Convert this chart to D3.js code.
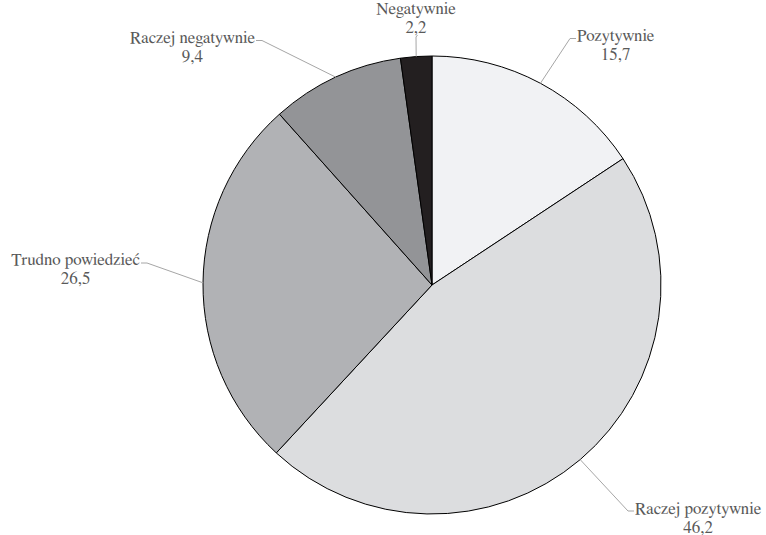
<!DOCTYPE html>
<html>
<head>
<meta charset="utf-8">
<script src="https://cdn.jsdelivr.net/npm/d3@7"></script>
<style>
  html, body { margin: 0; padding: 0; background: #ffffff; }
  svg { display: block; }
  .lbl { font-family: "Nimbus Roman", "FreeSerif", "Liberation Serif", serif; font-size: 17px; fill: #595959; }
</style>
</head>
<body>
<svg id="chart" width="766" height="535"></svg>
<script>
// Survey answers, clockwise from 12 o'clock
const categories = ["Pozytywnie", "Raczej pozytywnie", "Trudno powiedzieć", "Raczej negatywnie", "Negatywnie"];
const values = [15.7, 46.2, 26.5, 9.4, 2.2];
const valueLabels = ["15,7", "46,2", "26,5", "9,4", "2,2"];
const colors = ["#f1f2f4", "#dcdddf", "#b1b2b5", "#939497", "#231f20"];

// Where each callout's leader ends (elbow) and which side its text sits on
const callouts = [
  { ex: 570, ey: 38.5, side: "right" },
  { ex: 628, ey: 511, side: "right" },
  { ex: 147, ey: 263, side: "left" },
  { ex: 262, ey: 40.5, side: "left" },
  { ex: 416, ey: 37, side: "top" }
];

const cx = 432, cy = 285, radius = 229;
const lineGap = 19;

const svg = d3.select("#chart");
const g = svg.append("g").attr("transform", `translate(${cx},${cy})`);

const pie = d3.pie().sort(null).value(d => d.value);
const arcs = pie(categories.map((c, i) => ({ name: c, value: values[i], label: valueLabels[i] })));

const arc = d3.arc().innerRadius(0).outerRadius(radius);
const color = d3.scaleOrdinal().domain(categories).range(colors);

g.selectAll("path.slice")
  .data(arcs)
  .join("path")
  .attr("class", "slice")
  .attr("d", arc)
  .attr("fill", d => color(d.data.name))
  .attr("stroke", "#000")
  .attr("stroke-width", 1)
  .attr("stroke-linejoin", "round");

// Leader lines and two-line labels (name, value)
const lineColor = "#a6a6a6";

arcs.forEach((d, k) => {
  const mid = (d.startAngle + d.endAngle) / 2;
  const px = cx + radius * Math.sin(mid);
  const py = cy - radius * Math.cos(mid);
  const c = callouts[k];
  const pts = [[px, py], [c.ex, c.ey]];
  if (c.side === "right") pts.push([c.ex + 6, c.ey]);
  else if (c.side === "left") pts.push([c.ex - 6, c.ey]);
  else pts.push([c.ex + 1.5, c.ey - 2]);

  svg.append("path")
    .attr("d", d3.line()(pts))
    .attr("fill", "none")
    .attr("stroke", lineColor)
    .attr("stroke-width", 1);

  const t = svg.append("text")
    .attr("class", "lbl")
    .attr("text-anchor", "middle");
  const l1 = t.append("tspan").text(d.data.name);
  const w = l1.node().getComputedTextLength();
  let centerX, base;
  if (c.side === "right") {
    centerX = c.ex + 7 + w / 2;
    base = c.ey + 2.5;
  } else if (c.side === "left") {
    centerX = c.ex - 7 - w / 2;
    base = c.ey + 2;
  } else {
    centerX = c.ex;
    base = c.ey - 23.5;
  }
  l1.attr("x", centerX).attr("y", base);
  t.append("tspan").attr("x", centerX).attr("y", base + lineGap).text(d.data.label);
});
</script>
</body>
</html>
